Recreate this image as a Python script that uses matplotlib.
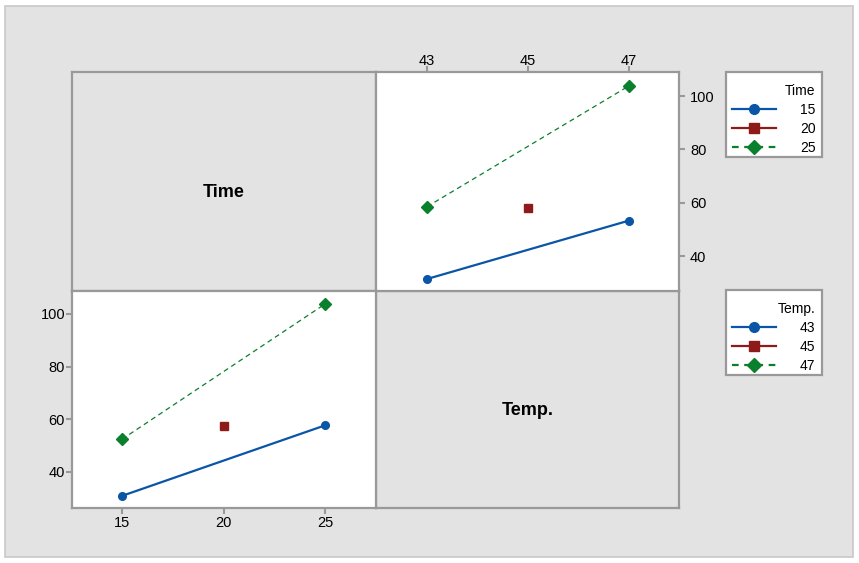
import matplotlib.pyplot as plt
from matplotlib.lines import Line2D
from matplotlib.patches import Rectangle

plt.rcParams['font.family'] = ['Liberation Sans', 'DejaVu Sans']

# interaction plot data (mean response)
time_levels = [15, 20, 25]
temp_levels = [43, 45, 47]

# top-right panel: x = Temp., one line per Time
time15_x = [43, 47]
time15_y = [31.4, 53.3]
time20_x = [45]
time20_y = [58.0]
time25_x = [43, 47]
time25_y = [58.5, 103.8]

# bottom-left panel: x = Time, one line per Temp.
temp43_x = [15, 25]
temp43_y = [30.9, 57.7]
temp45_x = [20]
temp45_y = [57.4]
temp47_x = [15, 25]
temp47_y = [52.4, 103.8]

yticks = [40, 60, 80, 100]

blue = '#0a55a6'
red = '#8e1a1a'
green = '#0a7f2c'
edge = '#999999'
bg = '#e3e3e3'

W, H = 859, 563
fig = plt.figure(figsize=(W / 100, H / 100), dpi=100)
fig.patch.set_facecolor('white')
fig.patches.append(Rectangle((5 / W, 6 / H), 848 / W, 551 / H, transform=fig.transFigure,
                             facecolor=bg, edgecolor='#c8c8c8', linewidth=1.2, zorder=-10))


def ax_at(x0, y0, x1, y1):
    return fig.add_axes([x0 / W, 1 - y1 / H, (x1 - x0) / W, (y1 - y0) / H])


def style(ax):
    for s in ax.spines.values():
        s.set_color(edge)
        s.set_linewidth(1.6)
    ax.tick_params(colors=edge, labelcolor='black', labelsize=10.5, length=4, width=1.5, pad=2)


xl, xm, xr = 72, 376, 679
yt, ym, yb = 72, 291, 508

# diagonal label panels
ax_time = ax_at(xl, yt, xm, ym)
ax_temp = ax_at(xm, ym, xr, yb)
for ax, lab in [(ax_time, 'Time'), (ax_temp, 'Temp.')]:
    ax.set_facecolor(bg)
    style(ax)
    ax.set_xticks([])
    ax.set_yticks([])
    ax.text(0.5, 0.45, lab, transform=ax.transAxes, ha='center', va='center',
            fontsize=13, fontweight='bold')

# top-right: Temp. on x, lines by Time
ax1 = ax_at(xm, yt, xr, ym)
style(ax1)
ax1.plot(time15_x, time15_y, color=blue, lw=1.6, marker='o', ms=5.5)
ax1.plot(time20_x, time20_y, color=red, lw=1.6, marker='s', ms=5.5, ls='none')
ax1.plot(time25_x, time25_y, color=green, lw=0.9, ls=(0, (4, 3)), marker='D', ms=6)
ax1.set_xlim(41.99, 47.99)
ax1.set_ylim(26.9, 109)
ax1.set_xticks(temp_levels)
ax1.set_yticks(yticks)
ax1.xaxis.tick_top()
ax1.yaxis.tick_right()
ax1.tick_params(axis='x', pad=-1)
ax1.tick_params(axis='y', pad=4)

# bottom-left: Time on x, lines by Temp.
ax2 = ax_at(xl, ym, xm, yb)
style(ax2)
ax2.plot(temp43_x, temp43_y, color=blue, lw=1.6, marker='o', ms=5.5)
ax2.plot(temp45_x, temp45_y, color=red, lw=1.6, marker='s', ms=6, ls='none')
ax2.plot(temp47_x, temp47_y, color=green, lw=0.9, ls=(0, (4, 3)), marker='D', ms=6)
ax2.set_xlim(12.54, 27.5)
ax2.set_ylim(26.3, 108.7)
ax2.set_xticks(time_levels)
ax2.set_yticks(yticks)
ax2.tick_params(axis='y', pad=1)


def handles():
    return [Line2D([], [], color=blue, lw=1.6, marker='o', ms=7),
            Line2D([], [], color=red, lw=1.6, marker='s', ms=7),
            Line2D([], [], color=green, lw=1.6, ls=(0, (3, 2.5)), marker='D', ms=7)]


# legend boxes (frame drawn separately for Minitab-like padding)
for title, labels, top in [('Time', time_levels, 72), ('Temp.', temp_levels, 290)]:
    fig.patches.append(Rectangle((726 / W, 1 - (top + 85) / H), 96 / W, 85 / H,
                                 transform=fig.transFigure, facecolor='white',
                                 edgecolor=edge, linewidth=1.6, zorder=1))
    leg = fig.legend(handles(), [str(v) for v in labels], title=title,
                     loc='upper left', bbox_to_anchor=(732 / W, 1 - (top + 12) / H),
                     fontsize=10, title_fontsize=10, frameon=False,
                     handlelength=3.2, handletextpad=1.7,
                     borderpad=0, labelspacing=0.36, alignment='right',
                     borderaxespad=0)
    leg.set_zorder(2)

fig.savefig('out.png', dpi=100, facecolor=fig.get_facecolor())
